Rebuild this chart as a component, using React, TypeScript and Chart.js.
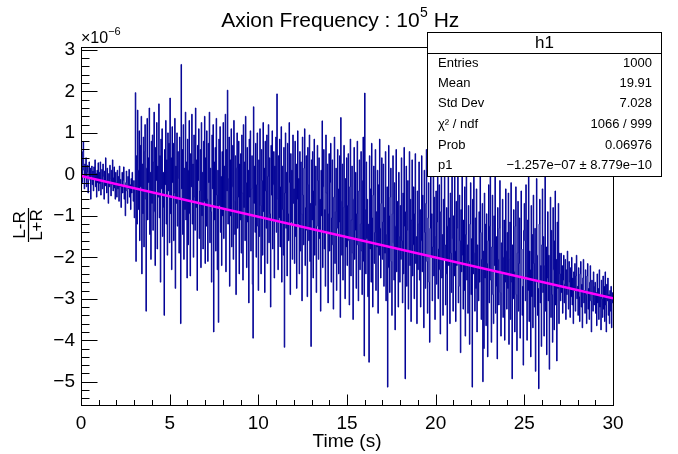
import { useEffect, useRef } from 'react';
import { Chart, registerables } from 'chart.js';

Chart.register(...registerables);

const FONT = '"Liberation Sans", Arial, Helvetica, sans-serif';

// axis ranges (values in units of 1e-6)
const xRange = [0, 30];
const yRange = [-5.56, 3.07];
const xTickValues = [0, 5, 10, 15, 20, 25, 30];
const yTickValues = [-5, -4, -3, -2, -1, 0, 1, 2, 3];
const xMinorStep = 1;
const yMinorStep = 0.2;

// histogram bin contents (1000 bins, 0-30 s), in units of 1e-6
const binsQuietStart = [
  0.35, 0.12, -0.2, 0.55, 0.78, 0.1, -0.35, 0.25, -0.05, 0.4, -0.3, 0.05, 0.22, -0.45, -0.15, 0.3, -0.1, 0.15, -0.6, -0.05, 0.2, -0.25, 0.08, -0.4, 0.18, -0.12, 0.35, -0.3, 0.02, -0.55, 0.1, -0.2, 0.28,
  -0.4, 0.05, -0.22, 0.3, -0.5, -0.1, 0.12, -0.35, 0.25, -0.05, -0.6, 0.08, -0.28, 0.4, -0.15, -0.45, 0.15, -0.2, -0.7, 0.02, -0.3, 0.22, -0.1, -0.52, 0.1, -0.25, 0.35, -0.4, -0.08, 0.18, -0.33, -0.6, 0.05,
  -0.2, -0.55, 0.1, -0.35, -0.05, -0.65, 0.2, -0.3, -0.12, -0.8, -0.25, 0.05, -0.45, -0.15, 0.18, -0.6, -0.3, -1.0, -0.2, 0.08, -0.4, -0.7, -0.05, -0.35, 0.12, -0.55, -0.25, -0.85, -0.1, -0.45, 0.05, -0.3, -0.65, -0.15, -1.05, -0.35,
];

const binsBurstA = [
  1.97, -2.1, 0.45, -1.2, 1.55, 0.1, -0.85, 1.05, -1.6, 0.7, -0.3, 1.4, -2.4, 0.25, -0.95, 0.9, -1.75, 0.55, 1.2, -0.6, -3.3, 0.15, 1.35, -1.1, 0.4, -0.2, 1.6, -1.45, 0.05, -2.05, 0.8, -0.7,
  0.95, -1.35, 0.3, 1.5, -0.9, -2.2, 0.65, -0.15, 1.25, -1.8, 0.2, -0.55, 1.7, -1.05, 0.45, -2.6, 0.85, -0.35, 1.1, -1.5, 0.05, -0.8, -3.4, 0.6, -0.25, 1.3, -1.2, 0.35, -1.95, 1.0, -0.4, 0.75, -1.65,
  1.84, -0.95, 0.4, -2.3, 1.15, -0.2, 0.75, -1.6, -0.45, 1.35, -2.75, 0.2, -0.7, 1.0, -1.25, 0.55, -0.1, -1.9, 0.9, -0.6, -3.6, 2.65, -0.35, 0.6, -1.45, 1.2, -2.05, 0.15, -0.85, 1.5, -1.1, 0.3, -2.5,
  0.85, -1.7, 0.1, 1.3, -0.95, -2.45, 0.5, -0.3, 1.45, -1.2, 0.25, -2.0, 0.95, -0.55, -1.35, 1.6, -0.8, 0.35, -2.8, 0.7, -0.15, 1.1, -1.55, -0.4, 0.6, -2.25, 1.25, -1.0, 0.05, -1.8, 0.8, -0.65, 1.4, -2.15,
  0.4, -1.25, 1.05, -0.6, -2.1, 0.75, -0.2, 1.5, -1.65, 0.15, -0.9, -2.6, 0.95, -0.35, 1.2, -3.8, 0.3, -1.1, 0.65, -1.85, 1.35, -0.5, -2.3, 0.1, -3.57, 0.85, -0.75, 1.15, -1.4, -0.05, -2.2, 0.55, -1.0,
  1.25, -1.55, 0.2, -0.85, 1.45, -2.35, 0.6, -0.4, 2.03, -1.2, -0.1, 0.9, -2.7, 0.35, -1.0, 1.1, -1.75, -0.3, 0.7, -2.05, 1.3, -0.65, -1.45, 0.45, -2.9, 0.15, 1.0, -1.3, -0.55, 0.8, -2.4, 0.25, -1.1,
  0.5, -1.9, 0.95, -0.45, -2.55, 1.2, -0.8, 0.3, -1.6, 1.4, -0.2, -2.25, 0.65, -1.15, 0.1, -3.1, 0.85, -0.55, 1.05, -1.85, -0.35, 0.45, -2.65, -3.95, 1.63, -0.7, 0.2, -1.4, 0.75, -2.0, -0.25, 1.0, -1.25, -2.8,
];

const binsBurstB = [
  0.35, -1.5, 1.1, -0.75, -2.4, 0.6, -0.15, -1.95, 1.25, -0.9, 0.15, -2.85, 0.8, -0.4, -1.3, 0.95, -2.15, -0.05, 1.2, -1.65, 0.4, -0.95, -3.2, 0.7, -0.5, 1.05, -1.8, -0.25, 0.55, -2.5, 0.2, -1.1, 0.9,
  -1.4, 1.94, -0.6, -2.3, 0.45, -1.05, 0.85, -1.75, -0.3, 1.15, -2.6, 0.2, -0.85, -1.95, 0.65, -4.17, -0.45, 1.0, -1.3, 0.05, -2.45, 0.75, -0.95, -1.6, 1.25, -0.2, -2.9, 0.5, -1.15, 0.1, -2.05, 0.95, -0.7,
  -0.35, -2.15, 0.8, -1.5, 0.25, -2.75, -0.6, 1.05, -1.2, -0.1, -2.4, 0.55, -1.85, 0.3, -0.95, -3.05, 0.9, -0.5, -1.7, 0.15, 1.1, -2.2, -0.8, 0.45, -1.35, -2.95, 0.65, -0.25, -1.6, 0.95, -2.1, -0.7, -4.15, 0.35,
  -1.1, 0.55, -2.5, -0.4, 0.85, -1.95, -0.75, 0.2, -2.85, -1.25, 0.7, -0.15, -2.05, 0.4, -1.55, -0.6, -3.3, 0.1, -1.0, 1.29, -2.25, -0.3, 0.6, -1.8, -0.85, -2.7, 0.95, -0.45, -1.4, 0.25, -3.1, -0.95, 0.5,
  -1.85, -0.2, 0.75, -2.6, -1.05, 0.35, -1.7, -3.25, -0.55, 0.9, -2.15, -0.9, 0.15, -2.8, -1.3, 0.6, -0.35, -2.4, -1.15, 0.45, -3.45, 1.37, -0.65, -1.95, 0.25, -2.55, -0.8, 0.7, -1.45, -3.0, -0.1, -1.75, 0.4,
  -2.2, -0.75, 0.5, -1.6, -3.15, -0.3, 0.85, -2.45, -1.1, 0.2, -1.9, -3.5, -0.6, 0.65, -2.05, -1.35, 0.05, -2.75, -0.95, 0.8, -1.7, -3.05, -0.4, 0.35, -2.3, -1.2, 0.55, -1.85, -2.9, -0.15, 0.9, -2.1, -4.38, 1.96,
  -0.85, -2.4, 0.3, -1.55, -0.6, -2.95, -1.2, -4.53, 0.45, -1.8, -0.35, -2.6, 0.75, -1.05, -3.2, -0.5, 0.2, -2.15, -1.4, 0.6, -2.8, -0.9, -1.75, 0.1, -3.35, -0.25, -1.95, 0.85, -1.3, -2.5, -0.7, 0.4, -2.05,
];

const binsBurstC = [
  -1.15, 0.25, -2.7, -0.8, -1.9, 0.55, -3.05, -1.45, -0.3, -5.13, -2.25, 0.7, -1.0, -2.85, -0.55, 0.15, -2.1, -3.4, -0.95, 0.45, -1.65, -2.55, -0.2, -3.75, -1.25, 0.6, -2.35, -0.65, -1.8, -3.2, 0.05, -1.5, -2.6,
  -0.75, -2.05, 0.4, -1.6, -3.1, -0.45, -2.4, 0.65, -1.25, -4.93, -0.9, 0.2, -2.7, -1.35, -0.15, -3.25, -1.85, 0.55, -2.2, -0.6, -3.55, -1.1, 0.35, -2.45, -1.7, -0.3, -3.0, -0.95, 0.5, -2.15, -1.5, -3.6, -0.4, -2.3,
  -1.2, 0.3, -2.55, -0.85, -3.2, -1.6, 0.45, -2.35, -0.5, -1.95, -3.7, 0.1, -1.4, -2.75, -0.7, 0.6, -2.1, -3.35, -1.05, -0.2, -2.6, -4.05, -1.3, 0.25, -2.0, -0.95, -3.05, -1.75, 0.5, -2.45, -0.55, -3.5, -1.5,
  -0.4, -2.65, -1.15, 0.35, -3.0, -1.8, -0.25, -2.3, -3.85, -0.9, 0.15, -2.5, -1.45, -3.4, -0.6, -2.05, 0.4, -1.7, -3.15, -2.4, -0.8, -4.25, -1.25, 0.2, -2.2, -1.05, -3.6, -0.45, -1.9, -2.85, 0.05, -1.55, -3.3,
  -1.0, -2.45, 0.3, -1.85, -3.55, -0.65, -2.2, -1.3, 0.1, -3.1, -2.7, -0.5, -1.6, -4.3, -0.85, -2.35, 0.25, -1.95, -3.25, -1.1, -2.8, -0.3, -3.9, -1.45, 0.15, -2.55, -1.7, -3.35, -0.75, -2.1, -4.1, -1.2, -0.2, -2.9,
  -1.55, -5.13, -0.6, -2.4, 0.2, -1.9, -3.3, -1.05, -2.75, -0.35, -3.8, -1.7, -2.25, -3.05, -0.9, -2.6, 0.05, -1.4, -3.5, -2.05, -0.7, -5.0, -1.85, -4.2, -0.45, -2.5, -1.2, -3.65, -0.95, -2.15, -4.4, -1.6, -0.25,
  -3.1, -1.25, 0.1, -2.55, -4.05, -1.75, -0.5, -2.9, -3.6, -1.0, -2.2, 0.25, -3.35, -1.5, -2.7, -4.45, -0.8, -2.05, -3.15, -1.3, -0.15, -2.85, -3.9, -1.65, -2.4, -0.6, -3.45, -2.0, -1.1, -4.0, -2.6, -0.35, -1.85,
  -3.25, -1.4, -2.75, -0.45, -4.1, -2.05, -1.15, -3.5, -0.2, -2.6, -4.93, -1.7, -3.0, -0.85, -2.35, -3.8, -1.25, -0.3, -2.9, -4.25, -1.9, -0.65, -3.3, -2.15, -1.05, -3.95, -2.5, -0.4, -1.8, -3.4, -2.7, -4.6, -1.35, -0.7,
  -1.6, -3.05, -0.25, -2.45, -4.0, -1.1, -2.8, 0.15, -3.55, -1.85, -2.3, -4.4, -0.75, -2.95, -1.45, -3.7, -0.5, -2.15, -3.2, -1.3, -4.75, -2.6, -0.1, -1.95, -3.4, -2.75, -5.17, -1.2, -0.6, -3.1, -2.2, -4.15, -1.7,
  -0.35, -2.85, -1.5, -3.9, -2.2, 0.05, -3.3, -1.75, -4.35, -2.5, -0.9, -3.05, -1.95, -4.7, -2.65, -0.55, -3.45, -1.35, -2.9, -4.05, -0.8, -2.3, -3.75, -1.6, -0.4, -3.15, -2.05, -4.5, -1.15, -2.75, -0.7, -3.6, -1.9,
];

const binsQuietEnd = [
  -2.4, -3.05, -1.9, -2.85, -2.2, -3.35, -2.55, -1.95, -3.1, -2.65, -2.05, -3.5, -2.3, -2.9, -1.85, -2.75, -3.25, -2.1, -2.6, -3.45, -2.25, -2.95, -2.0, -3.15, -2.5, -3.6, -2.35, -2.8, -2.15, -3.3, -2.45, -1.95, -3.0,
  -2.7, -3.4, -2.25, -2.95, -3.55, -2.4, -2.1, -3.2, -2.65, -3.7, -2.5, -2.05, -3.1, -2.8, -3.35, -2.3, -2.9, -3.6, -2.45, -2.15, -3.25, -2.75, -3.5, -2.6, -2.2, -3.05, -3.8, -2.55, -2.85, -3.3, -2.35, -3.15, -2.7,
  -2.6, -3.35, -2.85, -3.65, -2.4, -3.1, -2.75, -3.5, -2.3, -3.2, -2.95, -3.75, -2.55, -3.0, -3.45, -2.45, -3.25, -2.7, -3.55, -2.35, -3.15, -3.8, -2.65, -3.05, -2.5, -3.4, -2.9, -3.6, -2.8, -3.3, -2.7, -3.7, -3.1, -2.85,
];

// linear fit (pol1) endpoints
const fitX = [0, 30];
const fitY = [-0.04, -2.99];

// texts
const titleMain = 'Axion Frequency : 10';
const titleSup = '5';
const titleTail = ' Hz';
const xTitle = 'Time (s)';
const yTitleNum = 'L-R';
const yTitleDen = 'L+R';
const expBase = '\u00d710';
const expSup = '\u22126';
const statsName = 'h1';
const statsLabels = ['Entries', 'Mean', 'Std Dev', '\u03c7\u00b2 / ndf', 'Prob', 'p1'];
const statsValues = ['1000', '19.91', '7.028', '1066 / 999', '0.06976', '\u22121.257e\u221207 \u00b1 8.779e\u221210'];

const fmt = (v: number) => (v < 0 ? '\u2212' + Math.abs(v) : String(v));

const rootPlugin = {
  id: 'rootStyle',
  afterDraw(chart: any) {
    const { ctx, chartArea: a, scales } = chart;
    const xs = scales.x;
    const ys = scales.y;
    ctx.save();
    ctx.strokeStyle = '#000';
    ctx.fillStyle = '#000';
    ctx.lineWidth = 1;

    // frame
    const L = Math.round(a.left) + 0.5;
    const R = Math.round(a.right) + 0.5;
    const T = Math.round(a.top) + 0.5;
    const B = Math.round(a.bottom) + 0.5;
    ctx.strokeRect(L, T, R - L, B - T);

    // y ticks
    ctx.beginPath();
    const yMaj = 16;
    const yMin = 8;
    const kLo = Math.ceil(yRange[0] / yMinorStep - 1e-6);
    const kHi = Math.floor(yRange[1] / yMinorStep + 1e-6);
    for (let k = kLo; k <= kHi; k++) {
      const v = k * yMinorStep;
      const isMajor = Math.abs(v - Math.round(v)) < 1e-6;
      const y = Math.round(ys.getPixelForValue(v)) + 0.5;
      ctx.moveTo(L, y);
      ctx.lineTo(L + (isMajor ? yMaj : yMin), y);
    }
    // x ticks
    const xMaj = 11;
    const xMin = 5.5;
    for (let v = xRange[0]; v <= xRange[1] + 1e-6; v += xMinorStep) {
      const isMajor = xTickValues.indexOf(v) >= 0;
      const x = Math.round(xs.getPixelForValue(v)) + 0.5;
      ctx.moveTo(x, B);
      ctx.lineTo(x, B - (isMajor ? xMaj : xMin));
    }
    ctx.stroke();

    // x10^-6
    ctx.textAlign = 'left';
    ctx.textBaseline = 'alphabetic';
    ctx.font = `16px ${FONT}`;
    ctx.fillText(expBase, 81, 43);
    const wb = ctx.measureText(expBase).width;
    ctx.font = `11px ${FONT}`;
    ctx.fillText(expSup, 81 + wb, 35);

    // x title
    ctx.font = `19px ${FONT}`;
    ctx.textAlign = 'center';
    ctx.fillText(xTitle, (a.left + a.right) / 2, 447);

    // y title (fraction, rotated)
    ctx.save();
    ctx.translate(28, 225);
    ctx.rotate(-Math.PI / 2);
    ctx.font = `17px ${FONT}`;
    ctx.textAlign = 'center';
    ctx.fillText(yTitleNum, 0, -3);
    ctx.fillText(yTitleDen, 0, 14);
    ctx.beginPath();
    ctx.moveTo(-17, 0.5);
    ctx.lineTo(17, 0.5);
    ctx.lineWidth = 1.2;
    ctx.stroke();
    ctx.restore();

    // main title
    ctx.font = `21px ${FONT}`;
    const w1 = ctx.measureText(titleMain).width;
    ctx.font = `14px ${FONT}`;
    const w2 = ctx.measureText(titleSup).width;
    ctx.font = `21px ${FONT}`;
    const w3 = ctx.measureText(titleTail).width;
    const tx = 340 - (w1 + w2 + w3) / 2;
    ctx.textAlign = 'left';
    ctx.fillText(titleMain, tx, 27);
    ctx.font = `14px ${FONT}`;
    ctx.fillText(titleSup, tx + w1 + 0.5, 17);
    ctx.font = `21px ${FONT}`;
    ctx.fillText(titleTail, tx + w1 + w2 + 0.5, 27);

    // stats box
    const bx0 = 427.5, by0 = 32.5, bx1 = 661.5, by1 = 176.5;
    ctx.fillStyle = '#fff';
    ctx.fillRect(bx0, by0, bx1 - bx0, by1 - by0);
    ctx.fillStyle = '#000';
    ctx.lineWidth = 1;
    ctx.strokeRect(bx0, by0, bx1 - bx0, by1 - by0);
    ctx.beginPath();
    ctx.moveTo(bx0, 53.5);
    ctx.lineTo(bx1, 53.5);
    ctx.stroke();
    ctx.font = `17px ${FONT}`;
    ctx.textAlign = 'center';
    ctx.textBaseline = 'middle';
    ctx.fillText(statsName, (bx0 + bx1) / 2, 43);
    ctx.font = `13px ${FONT}`;
    const rowY = [63, 83, 103.5, 124, 145, 165];
    for (let i = 0; i < statsLabels.length; i++) {
      ctx.textAlign = 'left';
      ctx.fillText(statsLabels[i], 438, rowY[i]);
      ctx.textAlign = 'right';
      ctx.fillText(statsValues[i], 652, rowY[i]);
    }
    ctx.restore();
  },
};

export default function App() {
  const ref = useRef<HTMLCanvasElement | null>(null);
  useEffect(() => {
    const canvas = ref.current;
    if (!canvas) return;
    const counts = [...binsQuietStart, ...binsBurstA, ...binsBurstB, ...binsBurstC, ...binsQuietEnd];
    const w = (xRange[1] - xRange[0]) / counts.length;
    const histPts = counts.map((v, i) => ({ x: xRange[0] + (i + 0.5) * w, y: v }));
    histPts.unshift({ x: xRange[0], y: counts[0] });
    histPts.push({ x: xRange[1], y: counts[counts.length - 1] });
    const fitPts = fitX.map((x, i) => ({ x, y: fitY[i] }));

    const chart = new Chart(canvas, {
      type: 'line',
      data: {
        datasets: [
          {
            data: fitPts,
            borderColor: '#ff00ff',
            borderWidth: 2.5,
            pointRadius: 0,
            tension: 0,
          },
          {
            data: histPts,
            borderColor: 'rgb(0,0,150)',
            borderWidth: 1,
            pointRadius: 0,
            stepped: 'middle',
          },
        ],
      },
      options: {
        animation: false,
        responsive: false,
        devicePixelRatio: 1,
        events: [],
        layout: { padding: { left: 0, right: 65, top: 47, bottom: 0 } },
        plugins: { legend: { display: false }, tooltip: { enabled: false }, title: { display: false } },
        scales: {
          x: {
            type: 'linear',
            min: xRange[0],
            max: xRange[1],
            afterBuildTicks: (s: any) => {
              s.ticks = xTickValues.map((v) => ({ value: v }));
            },
            afterFit: (s: any) => {
              s.height = 49;
            },
            grid: { display: false, drawTicks: false },
            border: { display: false },
            ticks: {
              color: '#000',
              font: { family: FONT, size: 19 },
              padding: 7,
              maxRotation: 0,
              autoSkip: false,
              callback: (v: any) => fmt(Number(v)),
            },
          },
          y: {
            type: 'linear',
            min: yRange[0],
            max: yRange[1],
            afterBuildTicks: (s: any) => {
              s.ticks = yTickValues.map((v) => ({ value: v }));
            },
            afterFit: (s: any) => {
              s.width = 81;
            },
            grid: { display: false, drawTicks: false },
            border: { display: false },
            ticks: {
              color: '#000',
              font: { family: FONT, size: 19 },
              padding: 6,
              autoSkip: false,
              callback: (v: any) => fmt(Number(v)),
            },
          },
        },
      },
      plugins: [rootPlugin],
    } as any);
    return () => chart.destroy();
  }, []);

  return (
    <div style={{ position: 'fixed', left: 0, top: 0, width: 678, height: 454, background: '#fff' }}>
      <canvas ref={ref} width={678} height={454} style={{ display: 'block' }} />
    </div>
  );
}
